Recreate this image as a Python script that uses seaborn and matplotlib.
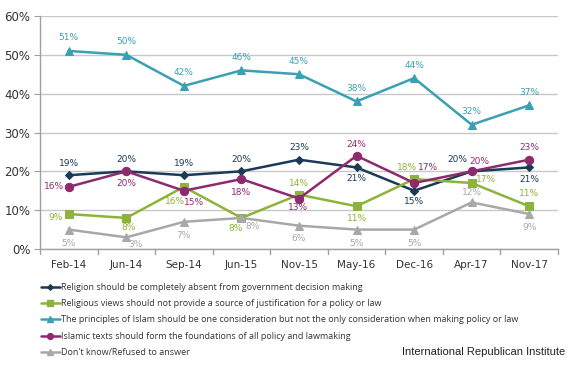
import matplotlib
matplotlib.use("Agg")
import matplotlib.pyplot as plt
import seaborn as sns
import pandas as pd
from matplotlib.lines import Line2D

sns.set_style("white")
plt.rcParams['font.family'] = ['DejaVu Sans']

dates = ["Feb-14", "Jun-14", "Sep-14", "Jun-15", "Nov-15", "May-16", "Dec-16", "Apr-17", "Nov-17"]
absent = [19, 20, 19, 20, 23, 21, 15, 20, 21]
not_justification = [9, 8, 16, 8, 14, 11, 18, 17, 11]
one_consideration = [51, 50, 42, 46, 45, 38, 44, 32, 37]
foundations = [16, 20, 15, 18, 13, 24, 17, 20, 23]
dont_know = [5, 3, 7, 8, 6, 5, 5, 12, 9]

series_names = [
    "Religion should be completely absent from government decision making",
    "Religious views should not provide a source of justification for a policy or law",
    "The principles of Islam should be one consideration but not the only consideration when making policy or law",
    "Islamic texts should form the foundations of all policy and lawmaking",
    "Don't know/Refused to answer",
]
series_values = [absent, not_justification, one_consideration, foundations, dont_know]
colors = ["#1B3A55", "#8DB33A", "#3AA0B4", "#8E2A6E", "#A8A8A8"]
label_colors = ["#1B3A55", "#8DB33A", "#3AA0B4", "#8E2A6E", "#A8A8A8"]
markers = ["D", "s", "^", "o", "^"]
msizes = [4, 6, 6, 6, 6]

# label offsets in pixels (dx, dy upward)
offsets = [
    [(0, 12), (0, 12), (0, 12), (0, 12), (0, 12), (0, -11), (0, -11), (-14, 12), (0, -12)],
    [(-13, -3), (2, -10), (-9, -15), (-6, -11), (0, 11), (0, -12), (-7, 12), (14, 3), (0, 13)],
    [(0, 13)] * 9,
    [(-15, 0), (0, -12), (10, -12), (0, -13), (-1, -9), (0, 11), (14, 15), (8, 10), (0, 12)],
    [(0, -14), (9, -7), (0, -14), (11, -9), (0, -13), (0, -14), (0, -14), (0, 10), (0, -13)],
]

rows = []
for name, vals in zip(series_names, series_values):
    for d, v in zip(dates, vals):
        rows.append({"date": d, "value": v, "series": name})
df = pd.DataFrame(rows)

fig = plt.figure(figsize=(5.7, 3.65), dpi=100)
ax = fig.add_axes([40 / 570, 1 - 249 / 365, 518 / 570, 233 / 365])

for name, col, mk, ms in zip(series_names, colors, markers, msizes):
    sub = df[df.series == name]
    sns.lineplot(data=sub, x="date", y="value", ax=ax, color=col, marker=mk,
                 markersize=ms, markeredgecolor=col, linewidth=1.8, sort=False,
                 legend=False)

for vals, offs, lc in zip(series_values, offsets, label_colors):
    for i, (v, (dx, dy)) in enumerate(zip(vals, offs)):
        ax.annotate(f"{v}%", (i, v), xytext=(dx, dy), textcoords="offset pixels",
                    ha="center", va="center", fontsize=6.5, color=lc)

ax.set_xlim(-0.5, 8.5)
ax.set_ylim(0, 60)
ax.set_yticks(range(0, 61, 10))
ax.set_yticklabels([f"{t}%" for t in range(0, 61, 10)], fontsize=8.5, color="#333333")
ax.set_xticks(range(9))
ax.set_xticklabels(dates, fontsize=7.5, color="#333333")
ax.set_xlabel("")
ax.set_ylabel("")
ax.yaxis.grid(True, color="#C8C8C8", linewidth=1)
ax.set_axisbelow(True)
for s in ["top", "right"]:
    ax.spines[s].set_visible(False)
for s in ["left", "bottom"]:
    ax.spines[s].set_color("#A0A0A0")
    ax.spines[s].set_linewidth(1)
ax.tick_params(axis="x", length=0, pad=8)
ax.tick_params(axis="y", length=4, color="#A0A0A0", left=True, pad=3)
for xb in [i - 0.5 for i in range(10)]:
    ax.plot([xb, xb], [0, -1.2], color="#A0A0A0", linewidth=1, clip_on=False)

handles = [Line2D([0], [0], color=c, marker=m, markersize=ms * 0.7, linewidth=1.8)
           for c, m, ms in zip(colors, markers, msizes)]
fig.legend(handles, series_names, loc="upper left", bbox_to_anchor=(41 / 570, 1 - 283 / 365),
           frameon=False, prop={"family": "Open Sans", "size": 6.5}, handlelength=2.1,
           handletextpad=0.15, labelspacing=0.8, borderaxespad=0, borderpad=0,
           labelcolor="#333333")

fig.text(565 / 570, 1 - 352 / 365, "International Republican Institute",
         family="Liberation Sans", fontsize=8, ha="right", va="center", color="#222222")

fig.savefig("out.png", dpi=100)
